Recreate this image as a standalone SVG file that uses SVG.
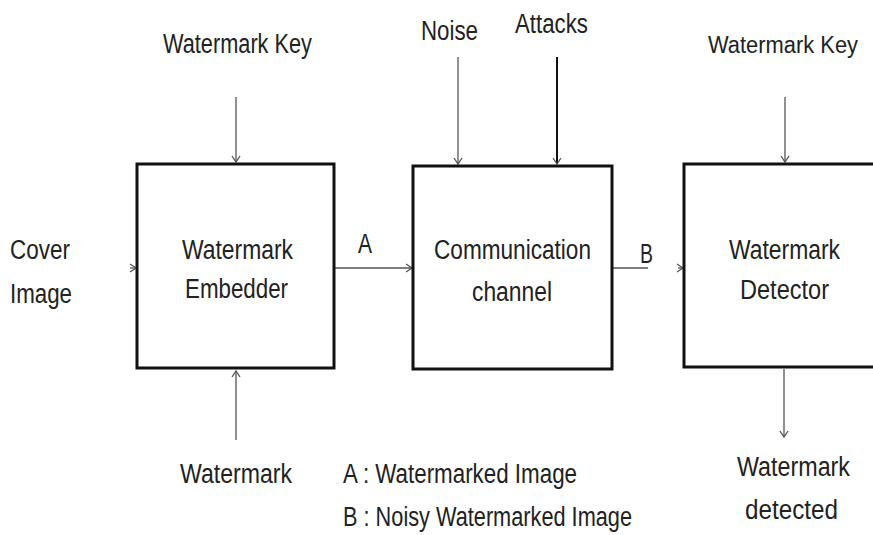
<svg xmlns="http://www.w3.org/2000/svg" width="873" height="535" viewBox="0 0 873 535">
<style>
text{font-family:"Liberation Sans",Arial,sans-serif;font-size:27px;fill:#222}
.box{fill:#fff;stroke:#111;stroke-width:3}
.ar{stroke:#555;stroke-width:1.3;fill:none}
.thick{stroke:#111;stroke-width:2}
</style>
<defs>
<marker id="ah" markerWidth="10" markerHeight="10" refX="8" refY="5" orient="auto" markerUnits="userSpaceOnUse">
<path d="M2,1 L8,5 L2,9" fill="none" stroke="#555" stroke-width="1.3"/>
</marker>
</defs>
<rect width="873" height="535" fill="#fff"/>
<g id="connectors">
<line class="ar" x1="236" y1="97" x2="236" y2="162" marker-end="url(#ah)"/>
<line class="ar" x1="458" y1="57" x2="458" y2="164" marker-end="url(#ah)"/>
<line class="ar thick" x1="557" y1="57" x2="557" y2="164" marker-end="url(#ah)"/>
<line class="ar" x1="785" y1="97" x2="785" y2="162" marker-end="url(#ah)"/>
<line class="ar" x1="130" y1="268" x2="136" y2="268" marker-end="url(#ah)"/>
<line class="ar" x1="334" y1="268" x2="412" y2="268" marker-end="url(#ah)"/>
<line class="ar" x1="612" y1="268" x2="648" y2="268"/>
<line class="ar" x1="678" y1="268" x2="683" y2="268" marker-end="url(#ah)"/>
<line class="ar" x1="236" y1="440" x2="236" y2="371" marker-end="url(#ah)"/>
<line class="ar" x1="784" y1="369" x2="784" y2="437" marker-end="url(#ah)"/>
</g>
<g id="embedder">
<rect class="box" x="137" y="164" width="197" height="204"/>
<text x="182" y="259" textLength="111" lengthAdjust="spacingAndGlyphs">Watermark</text>
<text x="185" y="298" textLength="103" lengthAdjust="spacingAndGlyphs">Embedder</text>
</g>
<g id="channel">
<rect class="box" x="413" y="166" width="199" height="203"/>
<text x="434" y="259" textLength="157" lengthAdjust="spacingAndGlyphs">Communication</text>
<text x="472" y="301" textLength="80" lengthAdjust="spacingAndGlyphs">channel</text>
</g>
<g id="detector">
<rect class="box" x="684" y="164" width="200" height="203"/>
<text x="729" y="259" textLength="111" lengthAdjust="spacingAndGlyphs">Watermark</text>
<text x="740" y="299" textLength="89" lengthAdjust="spacingAndGlyphs">Detector</text>
</g>
<g id="wk1"><text x="163" y="53" textLength="149" lengthAdjust="spacingAndGlyphs">Watermark Key</text></g>
<g id="noise"><text x="421" y="40" textLength="57" lengthAdjust="spacingAndGlyphs">Noise</text></g>
<g id="attacks"><text x="515" y="33" textLength="73" lengthAdjust="spacingAndGlyphs">Attacks</text></g>
<g id="wk2"><text x="708" y="53" style="font-size:23px" textLength="150" lengthAdjust="spacingAndGlyphs">Watermark Key</text></g>
<g id="cover">
<text x="10" y="259" textLength="60" lengthAdjust="spacingAndGlyphs">Cover</text>
<text x="10" y="303" textLength="62" lengthAdjust="spacingAndGlyphs">Image</text>
</g>
<g id="labelA"><text x="358" y="253" textLength="14" lengthAdjust="spacingAndGlyphs">A</text></g>
<g id="labelB"><text x="640" y="263" textLength="13" lengthAdjust="spacingAndGlyphs">B</text></g>
<g id="watermark"><text x="180" y="483" textLength="112" lengthAdjust="spacingAndGlyphs">Watermark</text></g>
<g id="legend">
<text x="343" y="483" textLength="234" lengthAdjust="spacingAndGlyphs">A : Watermarked Image</text>
<text x="343" y="526" textLength="289" lengthAdjust="spacingAndGlyphs">B : Noisy Watermarked Image</text>
</g>
<g id="detected">
<text x="737" y="476" textLength="113" lengthAdjust="spacingAndGlyphs">Watermark</text>
<text x="745" y="519" textLength="93" lengthAdjust="spacingAndGlyphs">detected</text>
</g>
</svg>
